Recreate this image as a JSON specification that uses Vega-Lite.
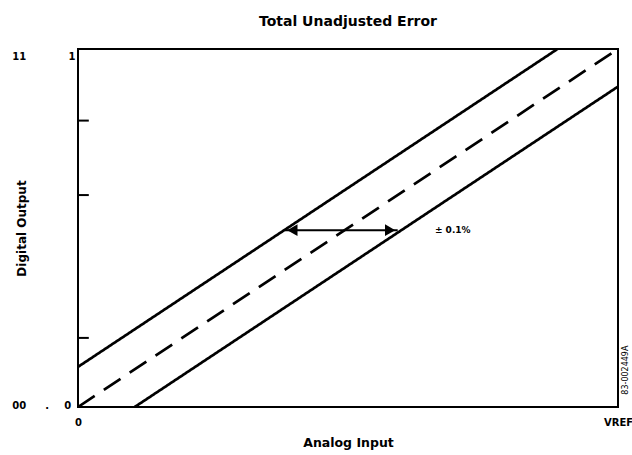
{
  "$schema": "https://vega.github.io/schema/vega-lite/v6.json",
  "width": 540,
  "height": 358,
  "autosize": "none",
  "padding": {"left": 78, "top": 49, "right": 14, "bottom": 48},
  "background": "white",
  "config": {
    "view": {"stroke": "black", "strokeWidth": 2},
    "font": "DejaVu Sans"
  },
  "title": {
    "text": "Total Unadjusted Error",
    "font": "DejaVu Sans",
    "fontSize": 14,
    "fontWeight": "bold",
    "color": "black",
    "anchor": "middle",
    "frame": "group",
    "offset": 20
  },
  "datasets": {
    "lines": [
      {"series": "upper", "style": "solid", "x": 0, "y": 0.112},
      {"series": "upper", "style": "solid", "x": 0.888, "y": 1},
      {"series": "center", "style": "dashed", "x": 0, "y": 0},
      {"series": "center", "style": "dashed", "x": 1, "y": 1},
      {"series": "lower", "style": "solid", "x": 0.105, "y": 0},
      {"series": "lower", "style": "solid", "x": 1, "y": 0.895}
    ],
    "ticks": [{"y": 0.193}, {"y": 0.592}, {"y": 0.8}],
    "arrow": [{"x": 0.383, "y": 0.494}, {"x": 0.592, "y": 0.494}],
    "heads": [
      {"x": 0.397, "y": 0.494, "dir": "left"},
      {"x": 0.578, "y": 0.494, "dir": "right"}
    ],
    "labels": [
      {"x": -0.109, "y": 0.978, "text": "11"},
      {"x": -0.011, "y": 0.978, "text": "1"},
      {"x": -0.109, "y": 0.003, "text": "00"},
      {"x": -0.057, "y": 0.003, "text": "."},
      {"x": -0.019, "y": 0.003, "text": "0"}
    ],
    "note": [{"x": 0.661, "y": 0.494, "text": "± 0.1%"}],
    "code": [{"x": 1.015, "y": 0.103, "text": "83-002449A"}]
  },
  "encoding": {
    "x": {"type": "quantitative", "scale": {"domain": [0, 1], "nice": false, "zero": false}},
    "y": {"type": "quantitative", "scale": {"domain": [0, 1], "nice": false, "zero": false}}
  },
  "layer": [
    {
      "data": {"name": "lines"},
      "mark": {"type": "line", "color": "black", "strokeWidth": 2.7, "clip": true},
      "encoding": {
        "x": {
          "field": "x", "type": "quantitative",
          "scale": {"domain": [0, 1], "nice": false, "zero": false},
          "axis": {
            "values": [0, 1],
            "labelExpr": "datum.value == 0 ? '0' : 'VREF'",
            "labelFont": "DejaVu Sans",
            "labelFontWeight": "bold",
            "labelFontSize": 10,
            "labelColor": "black",
            "labelPadding": 10,
            "labelFlush": false,
            "domain": false,
            "ticks": false,
            "grid": false,
            "title": "Analog Input",
            "titleFont": "DejaVu Sans",
            "titleFontSize": 12.5,
            "titleFontWeight": "bold",
            "titleColor": "black",
            "titlePadding": 9
          }
        },
        "y": {
          "field": "y", "type": "quantitative",
          "scale": {"domain": [0, 1], "nice": false, "zero": false},
          "axis": {
            "labels": false,
            "domain": false,
            "ticks": false,
            "grid": false,
            "title": "Digital Output",
            "titleFont": "DejaVu Sans",
            "titleFontSize": 12,
            "titleFontWeight": "bold",
            "titleColor": "black",
            "titlePadding": 50
          }
        },
        "detail": {"field": "series"},
        "strokeDash": {
          "field": "style", "type": "nominal",
          "scale": {"domain": ["solid", "dashed"], "range": [[1, 0], [20, 11]]},
          "legend": null
        }
      }
    },
    {
      "data": {"name": "ticks"},
      "mark": {"type": "rule", "color": "black", "strokeWidth": 2},
      "encoding": {
        "x": {"datum": 0, "type": "quantitative"},
        "x2": {"datum": 0.02},
        "y": {"field": "y", "type": "quantitative"}
      }
    },
    {
      "data": {"name": "arrow"},
      "mark": {"type": "line", "color": "black", "strokeWidth": 2},
      "encoding": {
        "x": {"field": "x", "type": "quantitative"},
        "y": {"field": "y", "type": "quantitative"}
      }
    },
    {
      "data": {"name": "heads"},
      "mark": {"type": "point", "filled": true, "color": "black", "opacity": 1, "size": 140},
      "encoding": {
        "x": {"field": "x", "type": "quantitative"},
        "y": {"field": "y", "type": "quantitative"},
        "shape": {
          "field": "dir", "type": "nominal",
          "scale": {"domain": ["left", "right"], "range": ["triangle-left", "triangle-right"]},
          "legend": null
        }
      }
    },
    {
      "data": {"name": "labels"},
      "mark": {"type": "text", "color": "black", "fontWeight": "bold", "fontSize": 10, "font": "DejaVu Sans", "align": "center", "baseline": "middle"},
      "encoding": {
        "x": {"field": "x", "type": "quantitative"},
        "y": {"field": "y", "type": "quantitative"},
        "text": {"field": "text"}
      }
    },
    {
      "data": {"name": "note"},
      "mark": {"type": "text", "color": "black", "fontWeight": "bold", "fontSize": 9, "font": "DejaVu Sans", "align": "left", "baseline": "middle"},
      "encoding": {
        "x": {"field": "x", "type": "quantitative"},
        "y": {"field": "y", "type": "quantitative"},
        "text": {"field": "text"}
      }
    },
    {
      "data": {"name": "code"},
      "mark": {"type": "text", "color": "black", "fontSize": 8, "font": "DejaVu Sans", "align": "center", "baseline": "middle", "angle": 270},
      "encoding": {
        "x": {"field": "x", "type": "quantitative"},
        "y": {"field": "y", "type": "quantitative"},
        "text": {"field": "text"}
      }
    }
  ]
}
